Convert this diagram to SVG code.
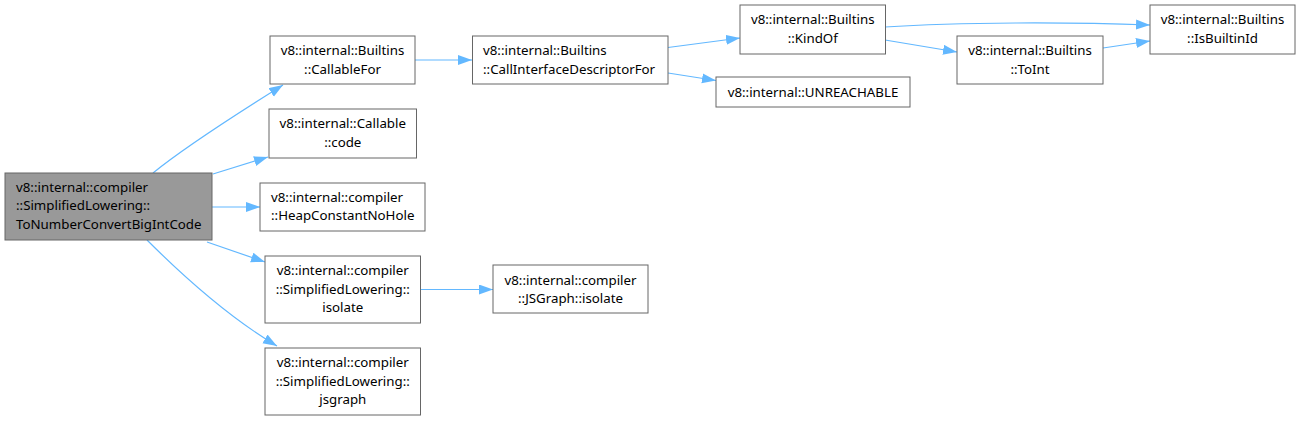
<svg xmlns="http://www.w3.org/2000/svg" width="1302" height="421" viewBox="0 0 1302 421">
<style>
.n rect{fill:#ffffff;stroke:#666666;stroke-width:1}
.n.main rect{fill:#999999}
.n text{font-family:"Noto Sans","DejaVu Sans",sans-serif;font-size:13.3px;fill:#000000}
.c text{text-anchor:middle}
.e path{fill:none;stroke:#63b8ff;stroke-width:1.2;marker-end:url(#ah)}
</style>
<defs>
<marker id="ah" markerUnits="userSpaceOnUse" markerWidth="15" markerHeight="11" refX="14" refY="5" orient="auto">
<path d="M0,0 L14,5 L0,10 z" fill="#63b8ff" stroke="none"/>
</marker>
</defs>
<rect width="1302" height="421" fill="#ffffff"/>
<g id="edges" class="e">
<path d="M153,173 C185,147 235,115 283,85"/>
<path d="M213,174 L268,157"/>
<path d="M212,207 L260,207"/>
<path d="M207,242 L265,262"/>
<path d="M147,240 C185,278 230,318 277,346"/>
<path d="M415,60 L472,60"/>
<path d="M668,47.5 L740,38"/>
<path d="M668,73 L716,80.5"/>
<path d="M885,27 C960,22 1070,22 1150,25"/>
<path d="M885,40 L957,52"/>
<path d="M1103,48 L1150,41"/>
<path d="M420,289.5 L493,289.5"/>
</g>
<g id="node_main" class="n main">
<rect x="5" y="173" width="207" height="67"/>
<text x="16" y="191.5">v8::internal::compiler</text>
<text x="16" y="210">::SimplifiedLowering::</text>
<text x="16" y="228.5">ToNumberConvertBigIntCode</text>
</g>
<g id="node_callablefor" class="n c">
<rect x="270" y="36" width="145" height="48"/>
<text x="342.5" y="55">v8::internal::Builtins</text>
<text x="342.5" y="73.5">::CallableFor</text>
</g>
<g id="node_cidf" class="n">
<rect x="472.5" y="36" width="195.5" height="48"/>
<text x="483" y="55">v8::internal::Builtins</text>
<text x="483" y="73.5">::CallInterfaceDescriptorFor</text>
</g>
<g id="node_kindof" class="n c">
<rect x="740" y="5" width="145.5" height="49"/>
<text x="812.75" y="24.25">v8::internal::Builtins</text>
<text x="812.75" y="42.75">::KindOf</text>
</g>
<g id="node_toint" class="n c">
<rect x="957" y="36" width="146" height="48"/>
<text x="1030" y="55">v8::internal::Builtins</text>
<text x="1030" y="73.5">::ToInt</text>
</g>
<g id="node_unreachable" class="n c">
<rect x="716" y="77" width="194" height="30"/>
<text x="813" y="96.5">v8::internal::UNREACHABLE</text>
</g>
<g id="node_isbuiltinid" class="n c">
<rect x="1150" y="5" width="145" height="49"/>
<text x="1222.5" y="24.25">v8::internal::Builtins</text>
<text x="1222.5" y="42.75">::IsBuiltinId</text>
</g>
<g id="node_code" class="n c">
<rect x="269" y="109" width="147.5" height="49"/>
<text x="342.75" y="128.25">v8::internal::Callable</text>
<text x="342.75" y="146.75">::code</text>
</g>
<g id="node_heapconst" class="n">
<rect x="260" y="183" width="165" height="48"/>
<text x="271" y="201.75">v8::internal::compiler</text>
<text x="271" y="220.25">::HeapConstantNoHole</text>
</g>
<g id="node_sl_isolate" class="n c">
<rect x="265" y="256" width="155.5" height="67"/>
<text x="342.75" y="275">v8::internal::compiler</text>
<text x="342.75" y="293.5">::SimplifiedLowering::</text>
<text x="342.75" y="312">isolate</text>
</g>
<g id="node_jsgraph_isolate" class="n c">
<rect x="493" y="265" width="155" height="48"/>
<text x="570.5" y="284.75">v8::internal::compiler</text>
<text x="570.5" y="303.25">::JSGraph::isolate</text>
</g>
<g id="node_jsgraph" class="n c">
<rect x="265" y="348" width="155.5" height="67"/>
<text x="342.75" y="367">v8::internal::compiler</text>
<text x="342.75" y="385.5">::SimplifiedLowering::</text>
<text x="342.75" y="404">jsgraph</text>
</g>
</svg>
